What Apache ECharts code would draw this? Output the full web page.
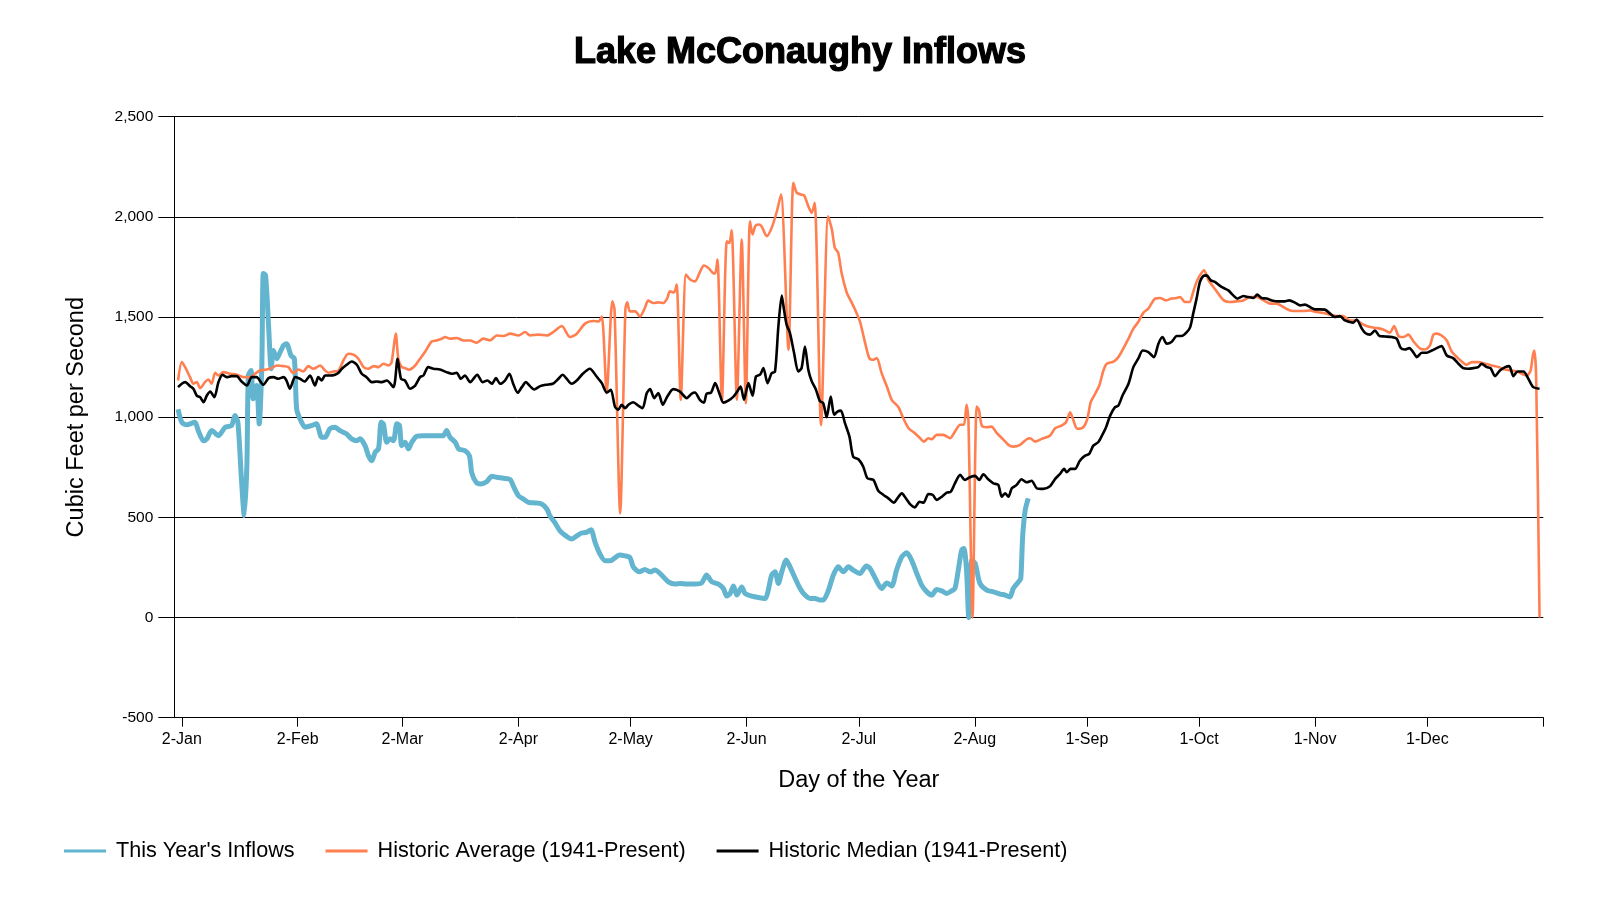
<!DOCTYPE html>
<html>
<head>
<meta charset="utf-8">
<script src="https://cdn.jsdelivr.net/npm/echarts@6/dist/echarts.min.js"></script>
<style>
html,body{margin:0;padding:0;background:#fff;}
#chart{width:1600px;height:900px;}
</style>
</head>
<body>
<div id="chart"></div>
<script>
// Day index: 0 = 1-Jan
const tickDays = [1, 32, 60, 91, 121, 152, 182, 213, 243, 273, 304, 334];
const tickLabels = ['2-Jan','2-Feb','2-Mar','2-Apr','2-May','2-Jun','2-Jul','2-Aug','1-Sep','1-Oct','1-Nov','1-Dec'];
const seriesNames = ["This Year's Inflows", "Historic Average (1941-Present)", "Historic Median (1941-Present)"];

const thisYear = [
[0,1040],[1,975],[2.3,962],[4.5,975],[5.4,933],[6.8,883],[7.7,892],[9,933],[10.8,908],[12.6,950],[14.3,958],[15.2,1008],[16,975],[17,675],[17.7,508],[18.4,758],[18.8,1208],[19.5,1233],[20.1,1092],[21,1158],[21.7,967],[22.4,1258],[22.8,1717],[23.4,1708],[24.2,1458],[24.9,1242],[25.5,1333],[26.4,1292],[27.3,1325],[28.2,1358],[29,1367],[30.2,1308],[31.1,1292],[31.7,1042],[32.6,992],[34,950],[35.7,958],[37,967],[38.4,900],[39.3,900],[40.6,942],[42,950],[43.3,933],[45,917],[46.4,892],[47.8,883],[48.7,892],[50,858],[50.9,808],[51.8,783],[52.7,825],[53.6,842],[54.3,975],[54.9,967],[55.8,875],[56.7,892],[57.6,883],[58.5,967],[59.2,958],[59.8,858],[60.7,875],[61.6,842],[62.5,875],[63.8,905],[65.6,908],[67.8,908],[70.9,908],[71.8,933],[72.7,900],[74.1,875],[75,842],[76.7,833],[77.9,808],[78.5,725],[79.7,675],[80.9,667],[82.5,678],[83.9,705],[85.2,700],[87,695],[88.8,688],[89.8,650],[91,608],[92.3,592],[93.7,575],[95.4,572],[97.2,567],[98.6,542],[99.4,508],[100.8,472],[102.1,433],[103.9,405],[105.2,392],[106.6,408],[107.9,422],[109.2,425],[110.4,438],[111.5,375],[112.8,317],[114.2,283],[115.5,283],[116.6,295],[118,312],[119.5,308],[120.8,300],[121.7,253],[123.3,228],[124.8,240],[126.2,228],[127.5,237],[129.3,212],[131.1,178],[132.9,167],[134.2,170],[136,167],[138.2,167],[140,173],[141.3,212],[142.7,178],[144.5,167],[145.8,145],[146.7,107],[147.6,120],[148.5,157],[149.4,112],[150.7,153],[151.6,120],[153.4,107],[155.2,100],[157,95],[157.8,137],[158.7,212],[159.6,228],[160.5,170],[161.4,228],[162.6,287],[163.6,253],[165,195],[166.3,145],[167.6,112],[169,95],[170.3,95],[171.6,87],[172.5,87],[173.9,137],[175.2,212],[176.5,253],[177.9,228],[179.2,253],[180.5,237],[182.3,220],[184,257],[185,245],[186.3,200],[188.1,145],[189.5,173],[190.8,157],[192.1,237],[193.5,303],[194.8,323],[196.1,287],[197.5,220],[198.8,162],[200.2,128],[201.5,112],[202.8,140],[204.2,133],[205.5,120],[206.8,133],[207.7,145],[208.6,237],[209.5,337],[210.1,345],[210.8,237],[211.4,0],[212.2,287],[213.1,270],[214.4,170],[216.2,137],[218,128],[219.8,117],[221.1,112],[222.4,103],[223.3,145],[224.7,178],[225.3,195],[225.8,403],[226.5,537],[227.3,595]
];

const histAvg = [
[0,1183],[1,1275],[1.9,1250],[3.2,1200],[4.1,1167],[5,1175],[5.9,1145],[7.2,1175],[8.1,1188],[9,1167],[9.9,1222],[10.8,1208],[12.1,1225],[13.9,1217],[15.7,1212],[17.5,1200],[19.3,1200],[20.6,1217],[21.9,1233],[23.7,1238],[25,1245],[26.4,1258],[28.2,1255],[29.5,1250],[30.8,1220],[32.2,1238],[33.5,1228],[34.8,1255],[36.2,1242],[38,1258],[39.3,1233],[40.2,1222],[41.5,1228],[42.9,1233],[44.2,1283],[45.5,1317],[46.9,1312],[48.2,1292],[49.6,1250],[50.9,1242],[52.3,1255],[53.6,1250],[54.9,1267],[56.3,1258],[57.1,1275],[58.2,1417],[58.9,1292],[59.8,1250],[60.7,1245],[61.8,1237],[63.4,1258],[64.7,1292],[66,1325],[67.8,1378],[69.1,1383],[70.5,1392],[71.4,1400],[72.7,1392],[74.5,1395],[76.3,1383],[78.1,1383],[79.8,1372],[81.6,1392],[83.4,1383],[85.2,1408],[87,1405],[88.8,1417],[91,1408],[92.8,1425],[94.1,1408],[96.3,1412],[98.6,1408],[100.3,1425],[102.6,1455],[104.8,1400],[106.6,1417],[108.8,1467],[111,1480],[112.4,1478],[113.3,1503],[114.6,1120],[116.1,1578],[116.7,1537],[118.2,520],[119.6,1540],[120.1,1573],[120.8,1528],[122.2,1528],[123.5,1503],[124.8,1545],[125.7,1582],[127.1,1570],[128.4,1573],[129.8,1570],[130.8,1595],[131.5,1628],[132.6,1623],[133.3,1662],[134.4,1087],[135.8,1712],[136.9,1687],[138.2,1678],[139.6,1728],[140.6,1757],[141.8,1745],[143,1720],[143.6,1717],[144.2,1787],[145.4,1078],[146.7,1878],[147.4,1870],[148,1933],[149.4,1087],[150.7,1887],[151.8,1070],[152.9,1978],[153.6,1912],[154.3,1953],[155.2,1962],[156,1953],[157.4,1903],[158.7,1945],[160.1,2028],[161.2,2112],[163.2,1337],[164.5,2170],[165.4,2120],[166.5,2112],[167.4,2107],[168.5,2053],[169.4,2020],[170.2,2070],[171.9,960],[173.8,2003],[174.8,1937],[175.6,1845],[176.5,1820],[177.4,1720],[178.8,1620],[179.7,1587],[181,1537],[182.3,1478],[183.7,1370],[184.8,1295],[185.9,1287],[186.8,1295],[188.1,1220],[189.5,1153],[190.8,1087],[192.6,1050],[193.9,995],[195.3,945],[197,920],[198.4,895],[199.4,878],[200.6,895],[201.5,890],[202.8,912],[204.6,912],[206.4,895],[207.7,928],[209.1,962],[210.1,962],[210.8,1062],[211.3,987],[212.4,0],[213.5,1053],[214.1,1037],[214.9,957],[216.2,950],[217.5,953],[218.9,920],[220.7,887],[222,862],[223.3,853],[225.1,862],[226.9,890],[227.8,895],[229.1,878],[230.9,892],[233.1,908],[234.5,945],[236.2,958],[237.4,975],[238.5,1025],[239.4,983],[240.4,942],[242,950],[243.1,992],[244,1075],[245.2,1117],[246.3,1158],[247.4,1233],[248.3,1267],[250.1,1278],[251.4,1300],[252.7,1342],[254.1,1392],[255.4,1442],[256.7,1475],[258.1,1522],[259.4,1542],[261.2,1592],[262.5,1595],[264.1,1583],[265.6,1592],[267,1595],[267.9,1600],[269.2,1575],[270.4,1575],[271.4,1625],[272.3,1675],[273.2,1708],[274.3,1733],[275.5,1683],[276.8,1650],[278.1,1617],[279.6,1583],[281.2,1575],[283,1578],[284.8,1583],[286.6,1600],[288.4,1600],[290.2,1583],[292,1567],[293.7,1567],[295.5,1550],[297.3,1533],[299.1,1530],[300.9,1530],[302.6,1533],[304.4,1525],[306.2,1520],[308,1512],[309.8,1505],[311.5,1505],[313.3,1483],[315.1,1483],[316.9,1462],[318.7,1450],[320.5,1445],[322.2,1438],[324,1422],[325.1,1455],[326.3,1405],[327.6,1400],[328.9,1412],[330.3,1378],[332.1,1342],[333.4,1338],[334.7,1358],[335.6,1412],[336.5,1417],[337.8,1408],[339.2,1383],[340.5,1328],[341.9,1300],[343.2,1278],[344.5,1262],[345.9,1275],[347.6,1275],[349.4,1267],[351.2,1258],[353,1250],[354.8,1238],[356.6,1233],[358.3,1225],[360.6,1208],[361.6,1233],[362.2,1308],[362.6,1333],[363.1,1192],[364,0]
];

const histMedian = [
[0,1150],[1,1167],[1.9,1175],[3.2,1155],[4.1,1142],[5,1108],[5.9,1100],[6.8,1075],[7.7,1108],[8.6,1128],[9.7,1100],[10.8,1175],[11.9,1212],[13,1200],[14.3,1205],[15.7,1205],[17,1178],[18.4,1158],[19.7,1200],[21,1200],[22.8,1162],[24.2,1195],[25.5,1200],[26.8,1192],[28.2,1200],[29,1183],[29.9,1142],[31.3,1200],[32.6,1192],[33.8,1178],[35.3,1208],[36.6,1158],[37.5,1200],[38.4,1183],[39.3,1208],[40.6,1208],[42,1212],[42.9,1222],[43.8,1242],[45.1,1262],[46.4,1278],[47.8,1262],[49.1,1217],[50.4,1200],[51.8,1175],[53.1,1178],[54.5,1175],[55.8,1183],[57.6,1150],[58.7,1292],[59.6,1192],[60.7,1183],[62,1142],[63.4,1158],[64.7,1200],[65.6,1208],[66.9,1250],[68.3,1242],[70,1238],[71.8,1225],[73.2,1217],[74.5,1222],[75.6,1192],[76.7,1208],[78.1,1175],[80,1212],[81.4,1175],[82.7,1183],[83.9,1167],[85,1195],[86.1,1167],[87.4,1183],[88.6,1217],[89.6,1167],[90.8,1122],[91.9,1150],[93,1175],[94.1,1155],[95.2,1138],[96.8,1155],[98.4,1162],[100.2,1167],[101.7,1192],[102.8,1212],[103.9,1192],[105.2,1167],[106.6,1183],[108.2,1217],[110.1,1242],[111.9,1203],[113.3,1170],[114.6,1123],[115.7,1137],[116.8,1053],[117.7,1037],[118.6,1062],[119.5,1045],[120.4,1062],[121.7,1075],[123.1,1057],[124.2,1045],[125.3,1120],[126.2,1140],[127.3,1095],[128.4,1120],[129.6,1062],[130.8,1103],[132.4,1140],[134.2,1128],[136,1095],[137.3,1117],[138.2,1123],[139.5,1087],[140.6,1073],[141.3,1117],[142.5,1123],[143.6,1170],[144.7,1120],[145.8,1073],[147.1,1083],[148.5,1103],[149.5,1128],[150.4,1153],[151.3,1087],[152.5,1170],[153.6,1107],[154.5,1203],[155.6,1212],[156.5,1245],[157.6,1170],[158.7,1220],[159.6,1228],[160.5,1453],[161.4,1607],[162,1537],[162.7,1462],[163.6,1420],[164.7,1320],[165.8,1228],[166.7,1245],[167.6,1353],[168.5,1237],[169.4,1180],[170.5,1140],[171.6,1080],[172.5,1070],[173.4,1000],[174.5,1103],[175.4,1012],[176.3,1028],[177.2,1033],[178.3,970],[179.5,903],[180.5,803],[181.9,790],[183.2,753],[184.3,695],[185.9,687],[187.2,633],[188.6,612],[189.9,595],[191.4,573],[192.3,595],[193.5,620],[194.6,595],[195.9,562],[197,550],[198.2,578],[199.3,573],[200.6,617],[201.8,612],[202.8,587],[204.2,603],[205.5,623],[206.6,628],[207.7,670],[209.1,712],[210.4,687],[211.7,700],[213.1,707],[214.2,687],[215.3,715],[216.6,690],[218,670],[219.3,662],[220.2,603],[221.1,620],[222,603],[222.9,645],[224.2,662],[225.5,690],[226.9,675],[228.2,683],[229.6,645],[231.3,642],[233.1,655],[234.5,692],[235.8,717],[236.9,742],[237.6,725],[238.6,742],[239.8,742],[241.1,783],[242.5,808],[243.6,817],[244.7,858],[246,875],[247,908],[248.1,950],[249.2,1008],[250.5,1050],[251.4,1058],[252.5,1108],[254.1,1167],[255.4,1250],[256.7,1292],[257.9,1333],[259.4,1325],[260.9,1300],[262.1,1367],[263.2,1400],[264.3,1367],[265.6,1375],[267,1405],[268.3,1405],[269.7,1425],[270.6,1450],[271.4,1517],[272.3,1592],[273.2,1675],[274.1,1705],[275,1708],[276.1,1683],[277.2,1675],[278.4,1658],[279.5,1645],[280.8,1633],[282.1,1608],[283.2,1592],[284.8,1605],[286.1,1600],[287.5,1595],[288.5,1612],[289.7,1595],[291,1592],[292.4,1583],[294.2,1578],[295.5,1578],[297.1,1583],[298.6,1572],[300,1558],[301.3,1562],[302.6,1550],[304,1538],[305.3,1538],[306.6,1537],[308,1517],[309.3,1500],[310.6,1505],[312,1483],[313.3,1475],[314.2,1472],[315.1,1488],[316.4,1445],[317.3,1422],[318.7,1412],[320,1433],[321.2,1405],[322.7,1403],[324.5,1400],[325.8,1392],[326.9,1345],[328,1338],[329.2,1345],[330.3,1322],[331.2,1300],[332.5,1322],[333.8,1322],[335.2,1333],[336.5,1345],[337.8,1355],[339.2,1308],[340.9,1295],[342.3,1267],[343.6,1245],[344.9,1242],[346.3,1245],[347.6,1250],[348.5,1267],[349.9,1250],[350.9,1245],[352.1,1205],[353.4,1233],[354.8,1250],[355.9,1255],[357,1205],[358.1,1228],[359.7,1228],[361,1192],[362.3,1150],[364,1142]
];

const FONT = 'Liberation Sans, Arial, sans-serif';
const chart = echarts.init(document.getElementById('chart'), null, {renderer: 'canvas'});
chart.setOption({
  animation: false,
  backgroundColor: '#ffffff',
  textStyle: {fontFamily: FONT, color: '#000'},
  title: {
    text: 'Lake McConaughy Inflows',
    left: 'center',
    top: 35,
    padding: 0,
    textStyle: {fontFamily: FONT, fontSize: 36, fontWeight: 'bold', color: '#000',
      textBorderColor: '#000', textBorderWidth: 1.2}
  },
  legend: {
    left: 64,
    top: 840,
    padding: 0,
    icon: 'rect',
    itemWidth: 42,
    itemHeight: 3,
    itemGap: 31,
    textStyle: {fontFamily: FONT, fontSize: 21.6, color: '#000', padding: [0,0,0,5]},
    data: seriesNames
  },
  grid: {left: 174.3, right: 56.7, top: 116.7, bottom: 182.3},
  xAxis: {
    type: 'value',
    min: -1,
    max: 365,
    name: 'Day of the Year',
    nameLocation: 'middle',
    nameGap: 51,
    nameTextStyle: {fontFamily: FONT, fontSize: 23.5, color: '#000'},
    axisLine: {onZero: false, lineStyle: {color: '#000', width: 1}},
    axisTick: {show: true, length: 9, lineStyle: {color: '#000'}, customValues: tickDays.concat([365])},
    axisLabel: {
      customValues: tickDays,
      margin: 14,
      fontSize: 16, color: '#000', fontFamily: FONT,
      formatter: function (v) { const i = tickDays.indexOf(v); return i >= 0 ? tickLabels[i] : ''; }
    },
    splitLine: {show: false}
  },
  yAxis: {
    type: 'value',
    min: -500,
    max: 2500,
    interval: 500,
    name: 'Cubic Feet per Second',
    nameLocation: 'middle',
    nameGap: 86,
    nameTextStyle: {fontFamily: FONT, fontSize: 23.5, color: '#000'},
    axisLine: {show: true, onZero: false, lineStyle: {color: '#000', width: 1}},
    axisTick: {show: true, length: 16, lineStyle: {color: '#000'}},
    axisLabel: {margin: 21, fontSize: 15.5, color: '#000', fontFamily: FONT},
    splitLine: {show: true, lineStyle: {color: '#000', width: 1}}
  },
  series: [
    {name: seriesNames[0], type: 'line', data: thisYear, showSymbol: false, smooth: 0.25,
     lineStyle: {color: '#62b4cf', width: 5}, itemStyle: {color: '#62b4cf'}, z: 2},
    {name: seriesNames[1], type: 'line', data: histAvg, showSymbol: false, smooth: 0.25,
     lineStyle: {color: '#ff7f50', width: 2.6}, itemStyle: {color: '#ff7f50'}, z: 3},
    {name: seriesNames[2], type: 'line', data: histMedian, showSymbol: false, smooth: 0.25,
     lineStyle: {color: '#000000', width: 2.6}, itemStyle: {color: '#000000'}, z: 4}
  ]
});
</script>
</body>
</html>
